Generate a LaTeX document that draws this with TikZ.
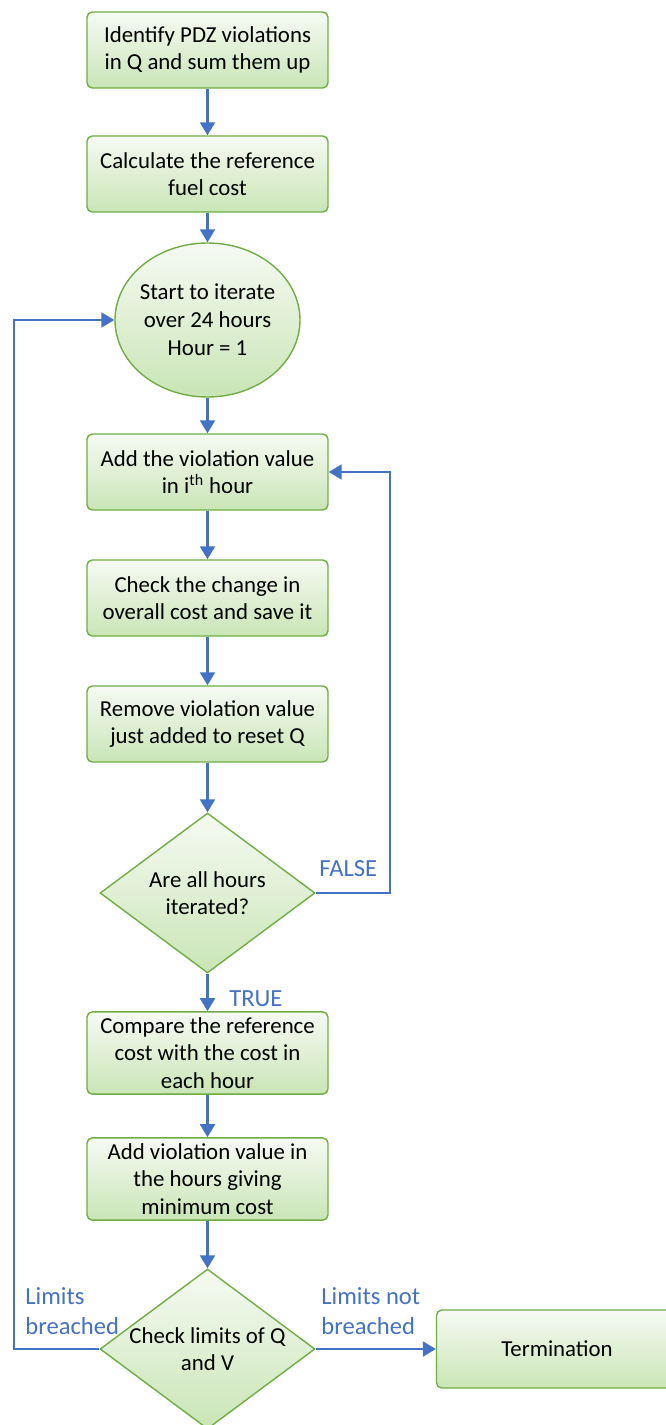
\documentclass[tikz,border=0pt]{standalone}
\usepackage{fontspec}
\setmainfont{Carlito}
\usepackage{tikz}
\usetikzlibrary{shapes.geometric, arrows.meta, positioning}
\definecolor{boxgreen}{RGB}{112,173,71}
\definecolor{filltop}{RGB}{246,250,243}
\definecolor{fillbot}{RGB}{201,229,182}
\definecolor{flowblue}{RGB}{68,114,196}
\tikzset{
  procbox/.style={rectangle, draw=boxgreen, top color=filltop, bottom color=fillbot,
    minimum width=4.82cm, minimum height=1.52cm, align=center,
    rounded corners=3pt, line width=0.8pt, font=\fontsize{13}{15.5}\selectfont},
  startell/.style={ellipse, draw=boxgreen, top color=filltop, bottom color=fillbot,
    minimum width=3.7cm, minimum height=3.08cm, align=center, inner sep=-0.3cm,
    line width=0.8pt, font=\fontsize{13}{16}\selectfont},
  decision/.style={diamond, draw=boxgreen, top color=filltop, bottom color=fillbot,
    minimum width=4.3cm, minimum height=3.2cm, align=center, inner sep=-0.3cm,
    shape aspect=1.34, line width=0.8pt, font=\fontsize{13}{15.5}\selectfont},
  flowarrow/.style={-{Triangle[length=0.26cm, width=0.3cm]}, line width=1.3pt, color=flowblue},
  looplabel/.style={text=flowblue, align=left, anchor=west, inner sep=0pt,
    font=\fontsize{14}{17}\selectfont}
}

\begin{document}
\begin{tikzpicture}
  \useasboundingbox (0,0) rectangle (13.3,-28.5);

  % Setup steps
  \node[procbox] (identify) at (4.15,-1.0) {Identify PDZ violations\\in Q and sum them up};
  \node[procbox] (refcost) at (4.15,-3.48) {Calculate the reference\\fuel cost};

  % Hour loop start
  \node[startell] (iterate) at (4.15,-6.4) {Start to iterate\\over 24 hours\\Hour = 1};

  % Loop body
  \node[procbox] (addviol) at (4.15,-9.44) {Add the violation value\\in i\textsuperscript{th} hour};
  \node[procbox] (checkcost) at (4.15,-11.96) {Check the change in\\overall cost and save it};
  \node[procbox] (removeviol) at (4.15,-14.48) {Remove violation value\\just added to reset Q};
  \node[decision] (allhours) at (4.15,-17.86) {Are all hours\\iterated?};

  % After the loop
  \node[procbox, minimum height=1.54cm] (compare) at (4.15,-21.06) {Compare the reference\\cost with the cost in\\each hour};
  \node[procbox, minimum height=1.56cm] (addmin) at (4.15,-23.58) {Add violation value in\\the hours giving\\minimum cost};
  \node[decision] (limits) at (4.15,-26.98) {Check limits of Q\\and V};
  \node[procbox, minimum height=1.56cm] (term) at (11.14,-26.98) {Termination};

  % Bends of the two loops
  \coordinate (falseup) at (7.8,-17.86);
  \coordinate (breachup) at (0.28,-26.98);

  % Main flow
  \draw[flowarrow] (identify) -- (refcost);
  \draw[flowarrow] (refcost) -- (iterate);
  \draw[flowarrow] (iterate) -- (addviol);
  \draw[flowarrow] (addviol) -- (checkcost);
  \draw[flowarrow] (checkcost) -- (removeviol);
  \draw[flowarrow] (removeviol) -- (allhours);
  \draw[flowarrow] (allhours) -- (compare);
  \draw[flowarrow] (compare) -- (addmin);
  \draw[flowarrow] (addmin) -- (limits);
  \draw[flowarrow] (limits) -- (term);

  % Loops back
  \draw[flowarrow] (allhours.east) -- (falseup) |- (addviol.east);
  \draw[flowarrow] (limits.west) -- (breachup) |- (iterate.west);

  % Branch labels
  \node[looplabel] (falselbl) at (6.38,-17.38) {FALSE};
  \node[looplabel] (truelbl) at (4.58,-19.98) {TRUE};
  \node[looplabel] (breachlbl) at (0.5,-26.22) {Limits\\breached};
  \node[looplabel] (notbreachlbl) at (6.42,-26.22) {Limits not\\breached};
\end{tikzpicture}
\end{document}
